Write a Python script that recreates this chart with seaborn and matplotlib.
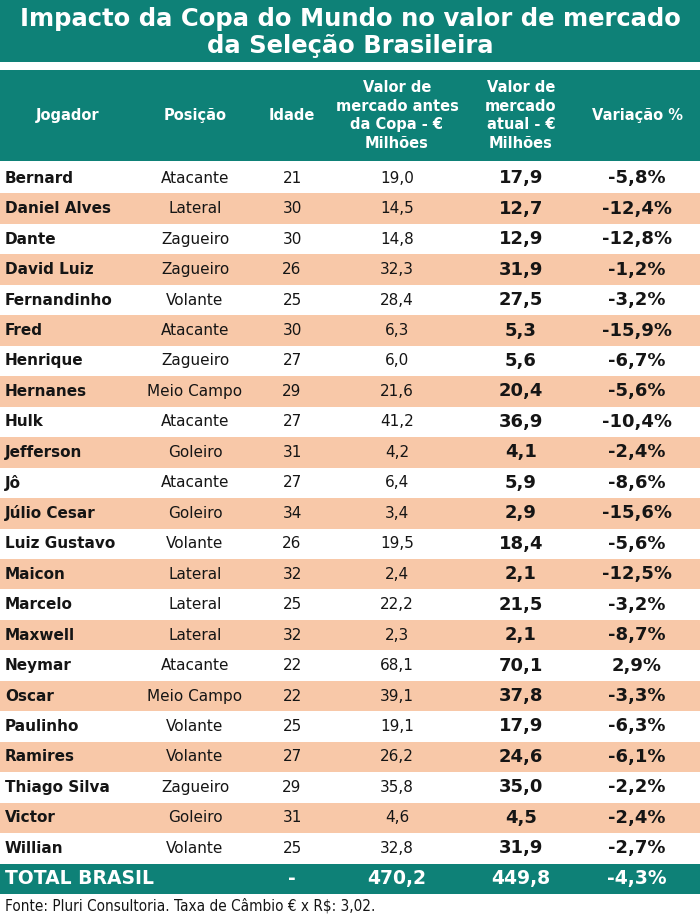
import numpy as np
import pandas as pd
import seaborn as sns
import matplotlib.pyplot as plt
from matplotlib.colors import ListedColormap
from matplotlib.transforms import blended_transform_factory

jogadores = ["Bernard", "Daniel Alves", "Dante", "David Luiz", "Fernandinho", "Fred",
             "Henrique", "Hernanes", "Hulk", "Jefferson", "Jô", "Júlio Cesar",
             "Luiz Gustavo", "Maicon", "Marcelo", "Maxwell", "Neymar", "Oscar",
             "Paulinho", "Ramires", "Thiago Silva", "Victor", "Willian"]
posicoes = ["Atacante", "Lateral", "Zagueiro", "Zagueiro", "Volante", "Atacante",
            "Zagueiro", "Meio Campo", "Atacante", "Goleiro", "Atacante", "Goleiro",
            "Volante", "Lateral", "Lateral", "Lateral", "Atacante", "Meio Campo",
            "Volante", "Volante", "Zagueiro", "Goleiro", "Volante"]
idades = [21, 30, 30, 26, 25, 30, 27, 29, 27, 31, 27, 34, 26, 32, 25, 32, 22, 22, 25, 27, 29, 31, 25]
valor_antes = [19.0, 14.5, 14.8, 32.3, 28.4, 6.3, 6.0, 21.6, 41.2, 4.2, 6.4, 3.4,
               19.5, 2.4, 22.2, 2.3, 68.1, 39.1, 19.1, 26.2, 35.8, 4.6, 32.8]
valor_atual = [17.9, 12.7, 12.9, 31.9, 27.5, 5.3, 5.6, 20.4, 36.9, 4.1, 5.9, 2.9,
               18.4, 2.1, 21.5, 2.1, 70.1, 37.8, 17.9, 24.6, 35.0, 4.5, 31.9]
variacao = [-5.8, -12.4, -12.8, -1.2, -3.2, -15.9, -6.7, -5.6, -10.4, -2.4, -8.6, -15.6,
            -5.6, -12.5, -3.2, -8.7, 2.9, -3.3, -6.3, -6.1, -2.2, -2.4, -2.7]
total_label = "TOTAL BRASIL"
total_antes = 470.2
total_atual = 449.8
total_var = -4.3

cabecalhos = ["Jogador", "Posição", "Idade",
              "Valor de\nmercado antes\nda Copa - €\nMilhões",
              "Valor de\nmercado\natual - €\nMilhões", "Variação %"]

TEAL = "#0e8177"
SALMON = "#f8c8a8"
INK = "#151515"
W, H = 700, 924


def br(v, pct=False):
    s = f"{v:.1f}".replace(".", ",")
    return s + "%" if pct else s


def band(top, bottom, color=None):
    a = fig.add_axes([0, 1 - bottom / H, 1, (bottom - top) / H])
    if color:
        a.set_facecolor(color)
    a.set_xticks([])
    a.set_yticks([])
    for sp in a.spines.values():
        sp.set_visible(False)
    return a


sns.set_style("white")
plt.rcParams["font.family"] = ["DejaVu Sans"]

fig = plt.figure(figsize=(7, 9.24), dpi=100)

# Title band
tax = band(0, 62, TEAL)
tax.text(0.5, 0.48, "Impacto da Copa do Mundo no valor de mercado\nda Seleção Brasileira",
         ha="center", va="center", color="white", fontsize=17.5, fontweight="bold",
         linespacing=1.15, transform=tax.transAxes)

# Header band
col_x = [68, 195, 292, 397, 521, 637]
hax = band(70, 161, TEAL)
for x, lab in zip(col_x, cabecalhos):
    hax.text(x / W, 0.5, lab, ha="center", va="center", color="white", fontsize=10.5,
             fontweight="bold", linespacing=1.3, transform=hax.transAxes)

# Body: striped rows drawn as a heatmap, total row in teal
n = len(jogadores)
stripe = np.array([i % 2 for i in range(n)] + [2])
df = pd.DataFrame(np.tile(stripe[:, None], (1, 6)))
ax = fig.add_axes([0, 1 - 894 / H, 1, (894 - 163) / H])
sns.heatmap(df, cmap=ListedColormap(["white", SALMON, TEAL]), vmin=-0.5, vmax=2.5,
            cbar=False, xticklabels=False, yticklabels=False, ax=ax)
tr = blended_transform_factory(ax.transAxes, ax.transData)

for i in range(n):
    y = i + 0.5
    ax.text(5 / W, y, jogadores[i], ha="left", va="center", fontsize=11,
            fontweight="bold", color=INK, transform=tr)
    ax.text(col_x[1] / W, y, posicoes[i], ha="center", va="center", fontsize=11,
            color=INK, transform=tr)
    ax.text(col_x[2] / W, y, str(idades[i]), ha="center", va="center", fontsize=11,
            color=INK, transform=tr)
    ax.text(col_x[3] / W, y, br(valor_antes[i]), ha="center", va="center", fontsize=11,
            color=INK, transform=tr)
    ax.text(col_x[4] / W, y, br(valor_atual[i]), ha="center", va="center", fontsize=13,
            fontweight="bold", color=INK, transform=tr)
    ax.text(col_x[5] / W, y, br(variacao[i], pct=True), ha="center", va="center",
            fontsize=13, fontweight="bold", color=INK, transform=tr)

yt = n + 0.5
ax.text(5 / W, yt, total_label, ha="left", va="center", fontsize=13.5,
        fontweight="bold", color="white", transform=tr)
for x, s in zip(col_x[2:], ["-", br(total_antes), br(total_atual), br(total_var, pct=True)]):
    ax.text(x / W, yt, s, ha="center", va="center", fontsize=13.5, fontweight="bold",
            color="white", transform=tr)

fig.text(5 / W, 1 - 906 / H, "Fonte: Pluri Consultoria. Taxa de Câmbio € x R$: 3,02.",
         ha="left", va="center", fontsize=11, color=INK, fontstretch="condensed")

fig.savefig("out.png", dpi=100)
